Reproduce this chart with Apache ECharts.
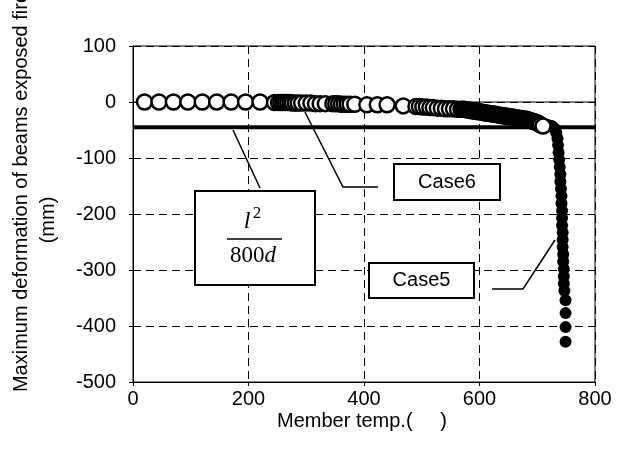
<!DOCTYPE html>
<html><head><meta charset="utf-8">
<script src="https://cdn.jsdelivr.net/npm/echarts/dist/echarts.min.js"></script>
<style>html,body{margin:0;padding:0;background:#fff}#c{width:617px;height:460px}</style>
</head><body><div id="c"></div>
<script>
// ---- data ----
const xTicks = [0, 200, 400, 600, 800];
const yTicks = [-500, -400, -300, -200, -100, 0, 100];
const limitValue = -45;       // l^2 / 800d
const case6Temp = [20,45,70,95,120,145,170,195,220,245,
  252,256,260,264,268,272,276,281,286,292,
  300,308,316,324,333,346,351,356,361,366,371,376,384,405,423,440,468,
  490,496,502,508,514,520,527,534,541,548,555,562,568,
  571,574,577,580,583,586,589,592,595,598,
  601,604,607,610,613,616,619,622,625,628,
  631,634,637,640,643,646,649,652,655,658,
  661,664,667,670,673,676,679,682,685,688,
  691,694,697,700,703,706,710];
const case6Def = [0,0,0,0,0,0,0,0,0,-1,
  -1,-1,-1,-1,-1,-1,-2,-2,-2,-2,
  -2,-2,-3,-3,-3,-3,-3,-3,-4,-4,-4,-4,-4,-5,-5,-5,-7,
  -8,-8,-9,-9,-10,-10,-11,-11,-12,-12,-12,-13,-13,
  -13,-13,-14,-14,-15,-15,-16,-16,-17,-17,
  -18,-18,-19,-19,-20,-20,-21,-21,-22,-22,
  -23,-23,-24,-24,-25,-25,-26,-26,-27,-27,
  -28,-28,-29,-29,-30,-30,-31,-31,-32,-33,
  -34,-35,-36,-37,-39,-41,-43];
const case5Temp = [706,710,713,717,721,725,728,731,733,735,
  736,737,738,739,740,740,741,742,742,743,
  743,743,744,744,744,745,745,746,746,746,
  747,749,749,749,749];
const case5Def = [-40,-41,-41,-41,-42,-43,-45,-49,-55,-65,
  -77,-90,-103,-116,-129,-142,-155,-168,-181,-194,
  -207,-220,-233,-246,-259,-272,-285,-298,-311,-324,
  -337,-354,-377,-402,-428];

const pairs = (xs, ys) => xs.map((x, i) => [x, ys[i]]);
const SANS = 'Liberation Sans, Arial, sans-serif';
const SERIF = 'Liberation Serif, Times New Roman, serif';

const chart = echarts.init(document.getElementById('c'), null, {renderer: 'canvas'});
const dash = {color: '#000', width: 1, type: [8, 5]};

chart.setOption({
  animation: false,
  backgroundColor: '#fff',
  grid: {left: 133, top: 46, width: 462, height: 336, show: true, borderColor: '#000', borderWidth: 1, backgroundColor: 'transparent'},
  xAxis: {
    type: 'value', min: xTicks[0], max: xTicks[xTicks.length - 1], interval: 200,
    axisLine: {show: true, onZero: false, lineStyle: {color: '#000', width: 1}},
    axisTick: {show: true, inside: false, length: 4, lineStyle: {color: '#000'}},
    axisLabel: {color: '#000', fontFamily: SANS, fontSize: 20, margin: 7},
    splitLine: {show: true, lineStyle: dash}
  },
  yAxis: {
    type: 'value', min: yTicks[0], max: yTicks[yTicks.length - 1], interval: 100,
    axisLine: {show: true, onZero: false, lineStyle: {color: '#000', width: 1}},
    axisTick: {show: true, inside: false, length: 4, lineStyle: {color: '#000'}},
    axisLabel: {color: '#000', fontFamily: SANS, fontSize: 20, margin: 17},
    splitLine: {show: true, lineStyle: dash}
  },
  series: [
    {type: 'line', data: [[xTicks[0], 0], [xTicks[xTicks.length - 1], 0]], symbol: 'none', silent: true,
     lineStyle: {color: '#000', width: 1}, z: 1},
    {type: 'line', data: [[xTicks[0], limitValue], [xTicks[xTicks.length - 1], limitValue]], symbol: 'none', silent: true,
     lineStyle: {color: '#000', width: 4}, z: 2},
    {name: 'Case5', type: 'scatter', data: pairs(case5Temp, case5Def), symbol: 'circle', symbolSize: 12,
     itemStyle: {color: '#000', opacity: 1}, z: 3},
    {name: 'Case6', type: 'scatter', data: pairs(case6Temp, case6Def), symbol: 'circle', symbolSize: 15,
     itemStyle: {color: '#fff', borderColor: '#000', borderWidth: 2.5, opacity: 1}, z: 4}
  ],
  graphic: [
    // axis titles
    {type: 'text', x: 21, y: 192, rotation: Math.PI / 2, z: 50,
     style: {text: 'Maximum deformation of beams exposed fire', fontFamily: SANS, fontSize: 20, fill: '#000', align: 'center', verticalAlign: 'middle'}},
    {type: 'text', x: 48, y: 220, rotation: Math.PI / 2, z: 50,
     style: {text: '(mm)', fontFamily: SANS, fontSize: 20, fill: '#000', align: 'center', verticalAlign: 'middle'}},
    {type: 'text', x: 362, y: 421, z: 50,
     style: {text: 'Member temp.(     )', fontFamily: SANS, fontSize: 20, fill: '#000', align: 'center', verticalAlign: 'middle'}},
    // leader lines
    {type: 'polyline', z: 60, shape: {points: [[233, 130], [260, 188]]}, style: {stroke: '#000', lineWidth: 1.5, fill: null}},
    {type: 'polyline', z: 60, shape: {points: [[305, 112], [343, 187], [378, 187]]}, style: {stroke: '#000', lineWidth: 1.5, fill: null}},
    {type: 'polyline', z: 60, shape: {points: [[492, 289], [523, 289], [555, 240]]}, style: {stroke: '#000', lineWidth: 1.5, fill: null}},
    // l^2/800d box
    {type: 'rect', z: 60, shape: {x: 195, y: 191, width: 120, height: 94}, style: {fill: '#fff', stroke: '#000', lineWidth: 2}},
    {type: 'text', z: 61, x: 247, y: 222, style: {text: 'l', fontFamily: SERIF, fontStyle: 'italic', fontSize: 24, fill: '#000', align: 'center', verticalAlign: 'middle'}},
    {type: 'text', z: 61, x: 257, y: 214, style: {text: '2', fontFamily: SERIF, fontSize: 17, fill: '#000', align: 'center', verticalAlign: 'middle'}},
    {type: 'line', z: 61, shape: {x1: 227, y1: 239, x2: 282, y2: 239}, style: {stroke: '#000', lineWidth: 1.5}},
    {type: 'text', z: 61, x: 253, y: 256, style: {text: '800{i|d}', fontFamily: SERIF, fontSize: 23, fill: '#000', align: 'center', verticalAlign: 'middle',
      rich: {i: {fontFamily: SERIF, fontStyle: 'italic', fontSize: 23, fill: '#000'}}}},
    // Case6 box
    {type: 'rect', z: 60, shape: {x: 394, y: 164, width: 106, height: 36}, style: {fill: '#fff', stroke: '#000', lineWidth: 2}},
    {type: 'text', z: 61, x: 447, y: 182, style: {text: 'Case6', fontFamily: SANS, fontSize: 20, fill: '#000', align: 'center', verticalAlign: 'middle'}},
    // Case5 box
    {type: 'rect', z: 60, shape: {x: 369, y: 263, width: 105, height: 35}, style: {fill: '#fff', stroke: '#000', lineWidth: 2}},
    {type: 'text', z: 61, x: 421.5, y: 280.5, style: {text: 'Case5', fontFamily: SANS, fontSize: 20, fill: '#000', align: 'center', verticalAlign: 'middle'}}
  ]
});
</script></body></html>
